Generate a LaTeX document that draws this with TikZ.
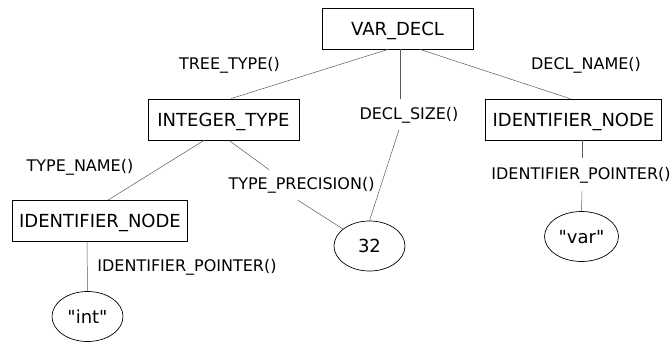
\documentclass[tikz,border=0pt]{standalone}
\usepackage{fontspec}
\setmainfont{DejaVu Sans}
\usetikzlibrary{shapes.geometric}

\begin{document}
\begin{tikzpicture} [x=1pt,y=-1pt,
 treenode/.style={rectangle,draw=black,line width=0.8pt,minimum width=151pt,minimum height=41pt,inner xsep=7pt,text height=13.1pt,text depth=0pt,font=\fontsize{18}{21}\selectfont},
 leaf/.style={ellipse,draw=black,line width=0.7pt,minimum width=71pt,minimum height=50pt,text height=13.1pt,text depth=0pt,font=\fontsize{18}{21}\selectfont},
 accessor/.style={inner xsep=0pt,inner ysep=8pt,text height=12.1pt,text depth=2.1pt,font=\fontsize{16}{19}\selectfont},
 link/.style={draw=black!65,line width=0.5pt},
]
    \useasboundingbox (0,0) rectangle (670,342);

    \node[treenode] (vardecl) at (397.5,28.5) {VAR\_DECL};
    \node[treenode] (inttype) at (223.5,119.5) {INTEGER\_TYPE};
    \node[treenode] (idleft) at (100,221) {IDENTIFIER\_NODE};
    \node[treenode] (idright) at (573.5,119.5) {IDENTIFIER\_NODE};
    \node[leaf] (intstr) at (87.5,316.5) {\textquotedbl int\textquotedbl};
    \node[leaf] (size) at (369.5,246) {32};
    \node[leaf] (varstr) at (581.5,236.5) {\textquotedbl var\textquotedbl};

    \node[accessor] (treetype) at (229.5,65) {TREE\_TYPE()};
    \node[accessor] (declname) at (586,65) {DECL\_NAME()};
    \node[accessor] (declsize) at (409,114.5) {DECL\_SIZE()};
    \node[accessor] (typename) at (80,166.5) {TYPE\_NAME()};
    \node[accessor] (typeprec) at (301.5,185) {TYPE\_PRECISION()};
    \node[accessor] (idptrleft) at (187,266.5) {IDENTIFIER\_POINTER()};
    \node[accessor,inner ysep=9.5pt] (idptrright) at (581,174.5) {IDENTIFIER\_POINTER()};

    \draw[link] ([xshift=-9.5pt]vardecl.south) -- ([xshift=7.5pt]inttype.north);
    \draw[link] ([xshift=2.5pt]vardecl.south) -- ([xshift=-9pt]declsize.north);
    \draw[link] ([xshift=-10pt]declsize.south) -- (size.north);
    \draw[link] ([xshift=22.5pt]vardecl.south) -- ([xshift=-3.5pt]idright.north);
    \draw[link] ([xshift=-19.5pt]inttype.south) -- ([xshift=8pt]idleft.north);
    \draw[link] ([xshift=5.5pt]inttype.south) -- ([xshift=-32.5pt]typeprec.north);
    \draw[link] ([xshift=-3.5pt]typeprec.south) -- (size);
    \draw[link] ([xshift=-13pt]idleft.south) -- (intstr.north);
    \draw[link] ([xshift=8.5pt]idright.south) -- ([xshift=1pt]idptrright.north);
    \draw[link] ([xshift=1pt]idptrright.south) -- (varstr.north);
\end{tikzpicture}
\end{document}
